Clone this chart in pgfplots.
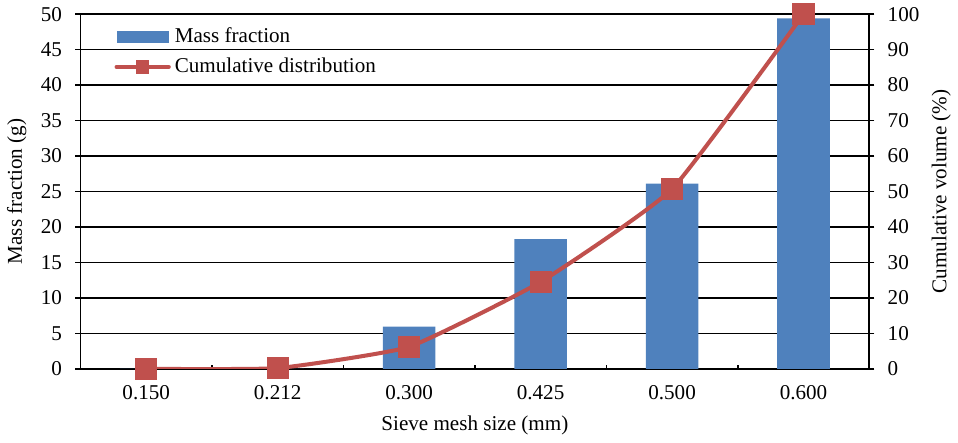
\documentclass[border=0pt]{standalone}
\usepackage{pgfplots}
\pgfplotsset{compat=1.18}
\usepackage{fontspec}
\setmainfont{Liberation Serif}

\definecolor{barblue}{HTML}{4F81BD}
\definecolor{linered}{HTML}{C0504D}

% mass retained on each sieve (g)
\pgfplotstableread{
x mass
0 0
1 0
2 5.95
3 18.3
4 26.1
5 49.4
}\masstable
% cumulative volume (%)
\pgfplotstableread{
x cum
0 0
1 0.2
2 6.2
3 24.5
4 50.7
5 100
}\cumtable

\begin{document}
\fontsize{10.5}{12.6}\selectfont
\begin{tikzpicture}
\pgfplotsset{
  common/.style={
    scale only axis,
    width=392.5pt, height=176.5pt,
    xmin=-0.5, xmax=5.5,
    ticklabel style={font=\fontsize{10.5}{12.6}\selectfont},
    label style={font=\fontsize{10.5}{12.6}\selectfont},
    /pgf/number format/assume math mode=true,
    axis line style={line width=0.9pt},
    every tick/.style={black, line width=0.8pt},
  },
}
\begin{axis}[
  common,
  ymin=0, ymax=50, ytick={0,5,...,50},
  axis y line*=left,
  axis x line*=bottom,
  ymajorgrids,
  grid style={black, line width=0.7pt},
  xtick={0,...,5},
  xticklabels={0.150,0.212,0.300,0.425,0.500,0.600},
  xticklabel style={yshift=-4.5pt},
  yticklabel style={xshift=-3pt},
  major x tick style={draw=none},
  minor xtick={0.5,1.5,...,4.5},
  minor x tick style={black, line width=0.8pt},
  minor tick length=2pt,
  xtick align=inside,
  ytick align=outside,
  major tick length=2.5pt,
  xlabel={Sieve mesh size (mm)},
  ylabel={Mass fraction (g)},
  xlabel style={yshift=-1pt},
  ylabel style={yshift=0pt},
  legend style={draw=none, fill=none, at={(0.035,0.985)}, anchor=north west,
    font=\fontsize{10.5}{12.6}\selectfont, row sep=2pt},
  legend cell align=left,
  legend image code/.code={},
]
\addplot[ybar, bar width=0.4, fill=barblue, draw=none,
  legend image code/.code={\fill[barblue] (0pt,-3pt) rectangle (26pt,3pt);}]
  table[x=x, y=mass] {\masstable};
\addlegendentry{Mass fraction}
\addlegendimage{legend image code/.code={
  \draw[linered, line width=2pt, line cap=round] (0pt,0pt) -- (26pt,0pt);
  \fill[linered] (10pt,-3pt) rectangle (16pt,3pt);}}
\addlegendentry{Cumulative distribution}
\end{axis}
\begin{axis}[
  common,
  ymin=0, ymax=100, ytick={0,10,...,100},
  axis y line*=right,
  axis x line=none,
  ytick align=outside,
  major tick length=2.5pt,
  yticklabel style={xshift=3pt},
  ylabel={Cumulative volume (\%)},
  ylabel style={yshift=1pt},
]
\addplot[linered, line width=2pt, smooth, tension=0.25,
  mark=square*, mark size=4.5pt, mark options={fill=linered, draw=none}]
  table[x=x, y=cum] {\cumtable};
\end{axis}
\end{tikzpicture}
\end{document}
